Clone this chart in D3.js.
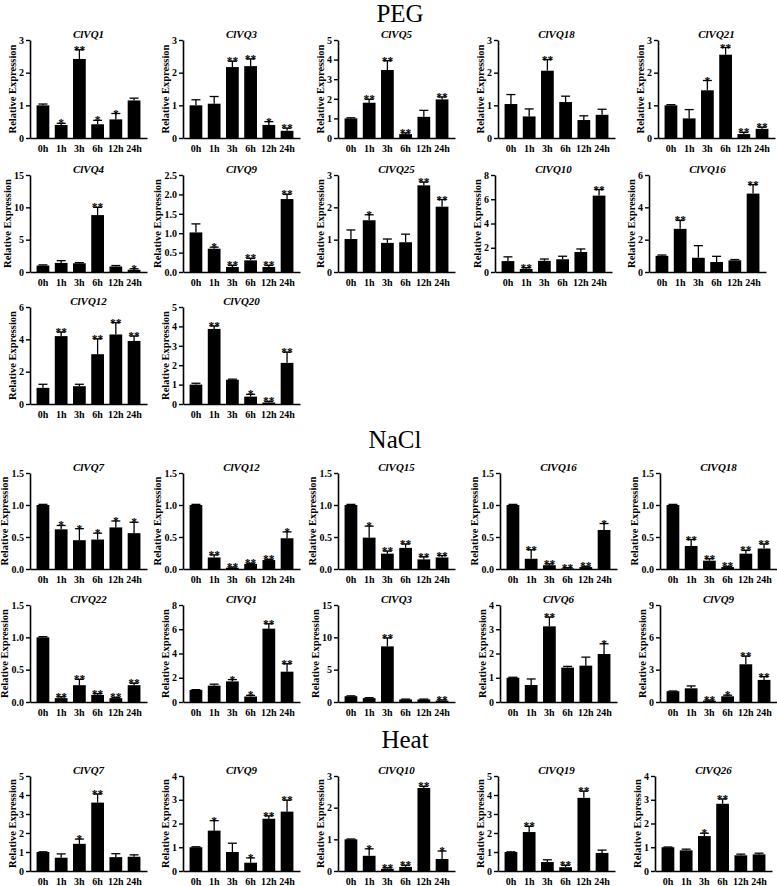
<!DOCTYPE html>
<html>
<head>
<meta charset="utf-8">
<script src="https://cdn.jsdelivr.net/npm/d3@7"></script>
<style>
  body { margin: 0; background: #fff; }
  text { font-family: "Liberation Serif", "Times New Roman", serif; }
</style>
</head>
<body>
<svg id="fig" width="777" height="886"></svg>
<script>
// time points (x categories)
var times = ["0h", "1h", "3h", "6h", "12h", "24h"];

// ---- PEG ----
var pegGenes = ["ClVQ1", "ClVQ3", "ClVQ5", "ClVQ18", "ClVQ21", "ClVQ4", "ClVQ9", "ClVQ25", "ClVQ10", "ClVQ16", "ClVQ12", "ClVQ20"];
var pegMeans = [
  [1.0, 0.4, 2.42, 0.42, 0.57, 1.15],
  [1.0, 1.05, 2.17, 2.2, 0.4, 0.22],
  [1.0, 1.8, 3.47, 0.2, 1.08, 1.97],
  [1.04, 0.66, 2.06, 1.1, 0.55, 0.71],
  [1.0, 0.6, 1.46, 2.55, 0.12, 0.28],
  [1.0, 1.4, 1.35, 8.8, 0.85, 0.35],
  [1.02, 0.6, 0.13, 0.3, 0.13, 1.88],
  [1.02, 1.6, 0.9, 0.92, 2.68, 2.02],
  [0.9, 0.25, 0.92, 1.05, 1.65, 6.3],
  [1.0, 2.67, 0.88, 0.62, 0.72, 4.85],
  [1.0, 4.2, 1.1, 3.08, 4.3, 3.9],
  [1.0, 3.87, 1.25, 0.38, 0.08, 2.12]
];
var pegErrors = [
  [0.04, 0.05, 0.28, 0.12, 0.18, 0.07],
  [0.17, 0.22, 0.18, 0.22, 0.1, 0.08],
  [0.03, 0.17, 0.47, 0.06, 0.33, 0.12],
  [0.29, 0.23, 0.34, 0.18, 0.13, 0.17],
  [0.02, 0.27, 0.3, 0.22, 0.05, 0.05],
  [0.1, 0.35, 0.1, 1.2, 0.15, 0.15],
  [0.22, 0.04, 0.04, 0.05, 0.04, 0.12],
  [0.28, 0.17, 0.12, 0.25, 0.1, 0.22],
  [0.35, 0.1, 0.15, 0.25, 0.25, 0.5],
  [0.05, 0.52, 0.75, 0.35, 0.05, 0.55],
  [0.22, 0.25, 0.12, 0.95, 0.73, 0.3],
  [0.07, 0.15, 0.03, 0.12, 0.05, 0.55]
];
var pegSig = [
  ["", "*", "**", "*", "*", ""],
  ["", "", "**", "**", "*", "**"],
  ["", "**", "**", "**", "", "**"],
  ["", "", "**", "", "", ""],
  ["", "", "*", "**", "**", "**"],
  ["", "", "", "**", "", "*"],
  ["", "*", "**", "**", "**", "**"],
  ["", "*", "", "", "**", "**"],
  ["", "**", "", "", "", "**"],
  ["", "**", "", "", "", "**"],
  ["", "**", "", "**", "**", "**"],
  ["", "**", "", "*", "**", "**"]
];
var pegMax = [3, 3, 5, 3, 3, 15, 2.5, 3, 8, 6, 6, 5];
var pegStep = [1, 1, 1, 1, 1, 5, 0.5, 1, 2, 2, 2, 1];

// ---- NaCl ----
var naclGenes = ["ClVQ7", "ClVQ12", "ClVQ15", "ClVQ16", "ClVQ18", "ClVQ22", "ClVQ1", "ClVQ3", "ClVQ6", "ClVQ9"];
var naclMeans = [
  [1.0, 0.62, 0.45, 0.46, 0.65, 0.56],
  [1.0, 0.18, 0.02, 0.08, 0.14, 0.48],
  [1.0, 0.49, 0.24, 0.33, 0.15, 0.18],
  [1.0, 0.16, 0.06, 0.01, 0.03, 0.61],
  [1.0, 0.36, 0.13, 0.03, 0.24, 0.32],
  [1.0, 0.06, 0.26, 0.11, 0.06, 0.26],
  [1.0, 1.35, 1.7, 0.45, 6.05, 2.5],
  [0.9, 0.6, 8.6, 0.4, 0.4, 0.22],
  [1.0, 0.7, 3.12, 1.42, 1.5, 1.98],
  [1.0, 1.27, 0.13, 0.53, 3.5, 2.05]
];
var naclErrors = [
  [0.01, 0.06, 0.18, 0.1, 0.1, 0.17],
  [0.01, 0.04, 0.01, 0.01, 0.01, 0.1],
  [0.01, 0.18, 0.04, 0.06, 0.04, 0.03],
  [0.01, 0.14, 0.02, 0.01, 0.01, 0.1],
  [0.01, 0.1, 0.03, 0.01, 0.05, 0.07],
  [0.01, 0.02, 0.09, 0.02, 0.01, 0.03],
  [0.02, 0.12, 0.15, 0.1, 0.4, 0.65],
  [0.05, 0.07, 1.3, 0.05, 0.05, 0.1],
  [0.02, 0.25, 0.38, 0.05, 0.35, 0.42],
  [0.02, 0.22, 0.05, 0.1, 0.75, 0.3]
];
var naclSig = [
  ["", "*", "*", "*", "*", "*"],
  ["", "**", "**", "**", "**", "*"],
  ["", "*", "**", "**", "**", "**"],
  ["", "**", "**", "**", "**", "*"],
  ["", "**", "**", "**", "**", "**"],
  ["", "**", "**", "**", "**", "**"],
  ["", "", "*", "*", "**", "**"],
  ["", "", "**", "", "", "**"],
  ["", "", "**", "", "", "*"],
  ["", "", "**", "*", "**", "**"]
];
var naclMax = [1.5, 1.5, 1.5, 1.5, 1.5, 1.5, 8, 15, 4, 9];
var naclStep = [0.5, 0.5, 0.5, 0.5, 0.5, 0.5, 2, 5, 1, 3];

// ---- Heat ----
var heatGenes = ["ClVQ7", "ClVQ9", "ClVQ10", "ClVQ19", "ClVQ26"];
var heatMeans = [
  [1.0, 0.7, 1.43, 3.6, 0.73, 0.75],
  [1.0, 1.7, 0.8, 0.35, 2.2, 2.5],
  [1.0, 0.48, 0.07, 0.13, 2.62, 0.38],
  [1.0, 2.05, 0.47, 0.2, 3.85, 0.95],
  [1.0, 0.87, 1.47, 2.83, 0.66, 0.7]
];
var heatErrors = [
  [0.01, 0.2, 0.25, 0.45, 0.18, 0.1],
  [0.02, 0.42, 0.37, 0.2, 0.12, 0.48],
  [0.01, 0.22, 0.03, 0.05, 0.05, 0.25],
  [0.01, 0.3, 0.12, 0.1, 0.35, 0.15],
  [0.01, 0.05, 0.12, 0.2, 0.05, 0.05]
];
var heatSig = [
  ["", "", "*", "**", "", ""],
  ["", "*", "", "*", "**", "**"],
  ["", "*", "**", "**", "**", "*"],
  ["", "**", "", "**", "**", ""],
  ["", "", "*", "**", "", ""]
];
var heatMax = [5, 4, 3, 5, 4];
var heatStep = [1, 1, 1, 1, 1];

var svg = d3.select("#fig");
var plotW = 117;
var serif = "'Liberation Serif', 'Times New Roman', serif";

function makePanels(genes, means, errs, sig, max, step) {
  return genes.map(function(g, i) {
    return { gene: g, mean: means[i], err: errs[i], sig: sig[i], max: max[i], step: step[i] };
  });
}
var peg = makePanels(pegGenes, pegMeans, pegErrors, pegSig, pegMax, pegStep);
var nacl = makePanels(naclGenes, naclMeans, naclErrors, naclSig, naclMax, naclStep);
var heat = makePanels(heatGenes, heatMeans, heatErrors, heatSig, heatMax, heatStep);

// rows of the figure: which panels, top of y axis, zero line, x of y axis for each column
var rows = [
  { panels: peg.slice(0, 5), top: 40, zero: 138, cols: [30, 183, 338, 498, 658] },
  { panels: peg.slice(5, 10), top: 175, zero: 272, cols: [30, 183, 338, 495, 649] },
  { panels: peg.slice(10, 12), top: 307, zero: 404, cols: [30, 183] },
  { panels: nacl.slice(0, 5), top: 473, zero: 569, cols: [30, 183, 338, 500, 660] },
  { panels: nacl.slice(5, 10), top: 605, zero: 702, cols: [30, 183, 338, 500, 660] },
  { panels: heat, top: 776, zero: 871, cols: [30, 183, 338, 498, 655] }
];

// section titles
[["PEG", 400, 22.4], ["NaCl", 395, 448], ["Heat", 405, 748]].forEach(function(t) {
  svg.append("text")
    .attr("x", t[1]).attr("y", t[2])
    .attr("text-anchor", "middle")
    .style("font-family", serif)
    .style("font-size", "25px")
    .text(t[0]);
});

function drawPanel(p, x0, top, zero) {
  var g = svg.append("g");
  var x = d3.scaleBand().domain(times).range([x0, x0 + plotW]).paddingInner(0.3).paddingOuter(0.36);
  var y = d3.scaleLinear().domain([0, p.max]).range([zero, top]);
  var bw = x.bandwidth();

  // bars
  g.selectAll("rect.bar").data(times).enter().append("rect")
    .attr("class", "bar")
    .attr("x", function(d) { return x(d); })
    .attr("width", bw)
    .attr("y", function(d, i) { return y(p.mean[i]); })
    .attr("height", function(d, i) { return zero - y(p.mean[i]); })
    .attr("fill", "#000");

  // error bars (upper only)
  g.selectAll("line.err").data(times).enter().append("line")
    .attr("x1", function(d) { return x(d) + bw / 2; })
    .attr("x2", function(d) { return x(d) + bw / 2; })
    .attr("y1", function(d, i) { return y(p.mean[i]); })
    .attr("y2", function(d, i) { return y(p.mean[i] + p.err[i]); })
    .attr("stroke", "#000").attr("stroke-width", 1.3);
  g.selectAll("line.cap").data(times).enter().append("line")
    .attr("x1", function(d) { return x(d) + bw / 2 - 4.5; })
    .attr("x2", function(d) { return x(d) + bw / 2 + 4.5; })
    .attr("y1", function(d, i) { return y(p.mean[i] + p.err[i]); })
    .attr("y2", function(d, i) { return y(p.mean[i] + p.err[i]); })
    .attr("stroke", "#000").attr("stroke-width", 1.3);

  // significance marks
  g.selectAll("text.sig").data(times).enter().append("text")
    .attr("x", function(d) { return x(d) + bw / 2; })
    .attr("y", function(d, i) { return y(p.mean[i] + p.err[i]) + 4; })
    .attr("text-anchor", "middle")
    .style("font-family", serif)
    .style("font-size", "11.5px").style("font-weight", "bold")
    .text(function(d, i) { return p.sig[i]; });

  // axes
  var fmt = p.step < 1 ? d3.format(".1f") : d3.format("d");
  var yAxis = g.append("g")
    .attr("transform", "translate(" + x0 + ",0)")
    .call(d3.axisLeft(y).tickValues(d3.range(0, p.max + p.step / 2, p.step))
      .tickSize(4).tickSizeOuter(0).tickPadding(2).tickFormat(fmt));
  var xAxis = g.append("g")
    .attr("transform", "translate(0," + zero + ")")
    .call(d3.axisBottom(x).tickSize(0).tickSizeOuter(0).tickPadding(7));

  [yAxis, xAxis].forEach(function(a) {
    a.attr("font-family", null).attr("font-size", null);
    a.select(".domain").attr("stroke-width", 1.6);
    a.selectAll(".tick line").attr("stroke-width", 1.4);
    a.selectAll("text").style("font-size", "10px").style("font-weight", "bold")
      .style("font-family", serif);
  });

  // y axis label
  var bb = yAxis.node().getBBox();
  var lx = x0 + bb.x - 7;
  g.append("text")
    .attr("transform", "translate(" + lx + "," + ((top + zero) / 2) + ") rotate(-90)")
    .attr("dy", "0.35em")
    .attr("text-anchor", "middle")
    .style("font-family", serif)
    .style("font-size", "10.5px").style("font-weight", "bold")
    .text("Relative Expression");

  // gene title
  g.append("text")
    .attr("x", x0 + plotW / 2)
    .attr("y", top - 2)
    .attr("text-anchor", "middle")
    .style("font-family", serif)
    .style("font-size", "11px").style("font-weight", "bold").style("font-style", "italic")
    .text(p.gene);
}

rows.forEach(function(r) {
  r.panels.forEach(function(p, i) {
    drawPanel(p, r.cols[i], r.top, r.zero);
  });
});
</script>
</body>
</html>
